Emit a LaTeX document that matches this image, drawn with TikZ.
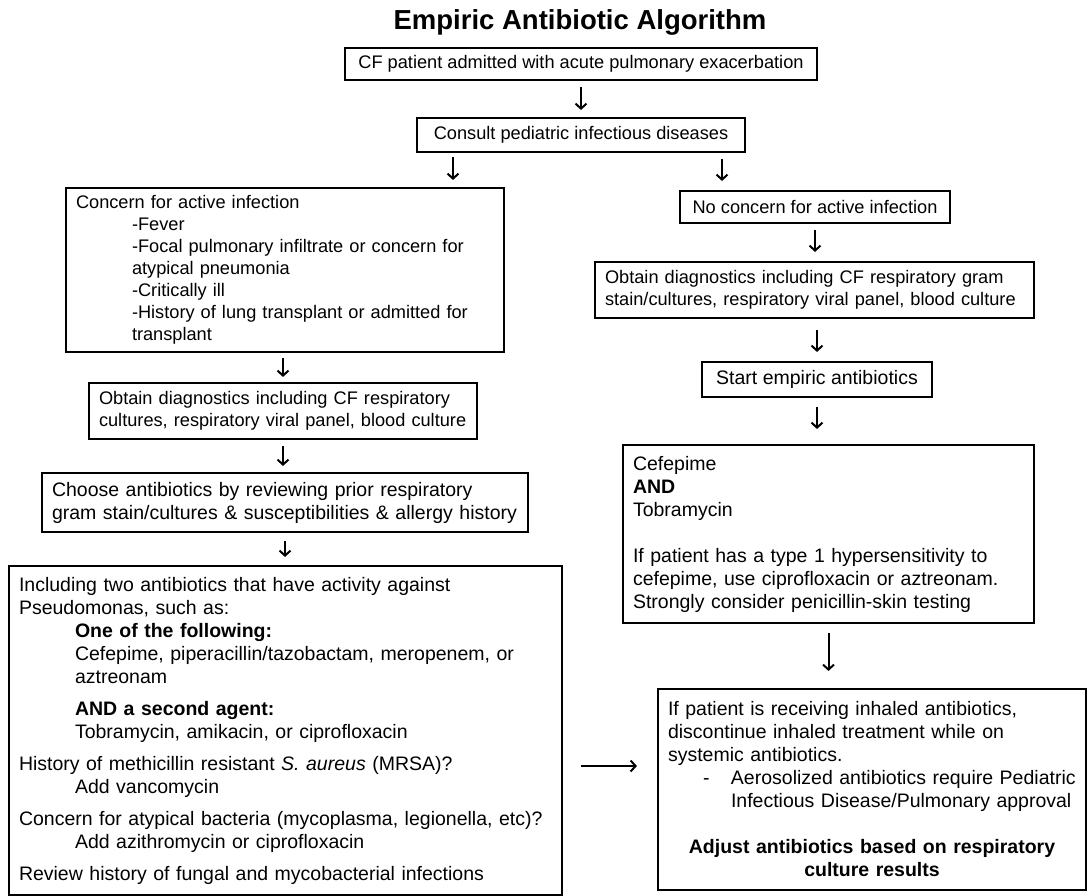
\documentclass[tikz,border=0pt]{standalone}
\usepackage{fontspec}
\setmainfont{Liberation Sans}
\usetikzlibrary{arrows.meta}
\newcommand{\smalltxt}{\fontsize{18.2}{22}\selectfont}
\newcommand{\bigtxt}{\fontsize{19.5}{23}\selectfont}
\newcommand{\ind}{\hspace*{56pt}}

\begin{document}
\begin{tikzpicture}[x=1pt, y=-1pt,
    box/.style={draw=black, line width=2.1pt, inner xsep=10pt, inner ysep=0pt, align=center, font=\smalltxt},
    listbox/.style={box, align=left},
    flow/.style={draw=black, line width=2pt, -{Straight Barb[length=5pt,width=11pt]}},
  ]
  \useasboundingbox (0,0) rectangle (1089,896);
  \node (title) at (580,22) {\fontsize{27.5}{32}\selectfont\bfseries Empiric Antibiotic Algorithm};
  % trunk
  \node [box, minimum width=472pt, minimum height=32pt] (cf) at (581,64) {CF patient admitted with acute pulmonary exacerbation};
  \node [box, minimum width=328pt, minimum height=34pt] (consult) at (581,135) {Consult pediatric infectious diseases};
  % left branch
  \node [listbox, text width=418pt, minimum height=164pt] (active) at (285,270) {Concern for active infection\\
    \ind-Fever\\
    \ind-Focal pulmonary infiltrate or concern for\\
    \ind atypical pneumonia\\
    \ind-Critically ill\\
    \ind-History of lung transplant or admitted for\\
    \ind transplant};
  \node [listbox, text width=368pt, minimum height=56pt] (diagL) at (283,411) {Obtain diagnostics including CF respiratory\\
    cultures, respiratory viral panel, blood culture};
  \node [listbox, font=\bigtxt, text width=466pt, minimum height=59pt] (choose) at (285,502.5) {Choose antibiotics by reviewing prior respiratory\\
    gram stain/cultures \& susceptibilities \& allergy history};
  \node [listbox, font=\bigtxt, text width=533pt, minimum height=329pt] (regimen) at (285.5,730.5) {Including two antibiotics that have activity against\\
    Pseudomonas, such as:\\
    \ind\textbf{One of the following:}\\
    \ind Cefepime, piperacillin/tazobactam, meropenem, or\\
    \ind aztreonam\\[9pt]
    \ind\textbf{AND a second agent:}\\
    \ind Tobramycin, amikacin, or ciprofloxacin\\[9pt]
    History of methicillin resistant \textit{S. aureus} (MRSA)?\\
    \ind Add vancomycin\\[9pt]
    Concern for atypical bacteria (mycoplasma, legionella, etc)?\\
    \ind Add azithromycin or ciprofloxacin\\[9pt]
    Review history of fungal and mycobacterial infections};
  % right branch
  \node [box, minimum width=270pt, minimum height=32pt] (noconcern) at (815,207) {No concern for active infection};
  \node [listbox, text width=419pt, minimum height=56pt] (diagR) at (814.5,290) {Obtain diagnostics including CF respiratory gram\\
    stain/cultures, respiratory viral panel, blood culture};
  \node [box, font=\bigtxt, minimum width=230pt, minimum height=35pt] (start) at (817,379.5) {Start empiric antibiotics};
  \node [listbox, font=\bigtxt, text width=391pt, minimum height=178pt] (cefepime) at (828.5,534) {Cefepime\\
    \textbf{AND}\\
    Tobramycin\\[23pt]
    If patient has a type 1 hypersensitivity to\\
    cefepime, use ciprofloxacin or aztreonam.\\
    Strongly consider penicillin-skin testing};
  \node [listbox, font=\bigtxt, text width=408pt, minimum height=201pt] (adjust) at (872,789.5) {If patient is receiving inhaled antibiotics,\\
    discontinue inhaled treatment while on\\
    systemic antibiotics.\\
    \hspace*{35pt}\makebox[28pt][l]{-}\mbox{Aerosolized antibiotics require Pediatric}\\
    \hspace*{63pt}Infectious Disease/Pulmonary approval\par
    \vspace{23pt}
    {\centering\bfseries Adjust antibiotics based on respiratory\\
    culture results\par}};
  % connectors
  \coordinate (xa) at (453,0);
  \coordinate (xb) at (722,0);
  \coordinate (ya) at (0,766);
  \draw [flow, shorten <=6pt, shorten >=7pt] (cf) -- (consult);
  \draw [flow, shorten <=4pt, shorten >=7pt] (consult.south -| xa) -- (active.north -| xa);
  \draw [flow, shorten <=6pt, shorten >=9pt] (consult.south -| xb) -- (noconcern.north -| xb);
  \draw [flow, shorten <=5pt, shorten >=5pt] (active.south -| diagL.north) -- (diagL.north);
  \draw [flow, shorten <=6pt, shorten >=6pt] (diagL.south) -- (diagL.south |- choose.north);
  \draw [flow, shorten <=8pt, shorten >=8pt] (choose.south) -- (choose.south |- regimen.north);
  \draw [flow, shorten <=6pt, shorten >=9pt] (noconcern.south) -- (noconcern.south |- diagR.north);
  \draw [flow, shorten <=11pt, shorten >=9pt] (diagR.south -| start.north) -- (start.north);
  \draw [flow, shorten <=9pt, shorten >=15pt] (start.south) -- (start.south |- cefepime.north);
  \draw [flow, shorten <=9pt, shorten >=17pt] (cefepime.south) -- (cefepime.south |- adjust.north);
  \draw [flow, shorten <=18pt, shorten >=20pt] (regimen.east |- ya) -- (adjust.west |- ya);
\end{tikzpicture}
\end{document}
